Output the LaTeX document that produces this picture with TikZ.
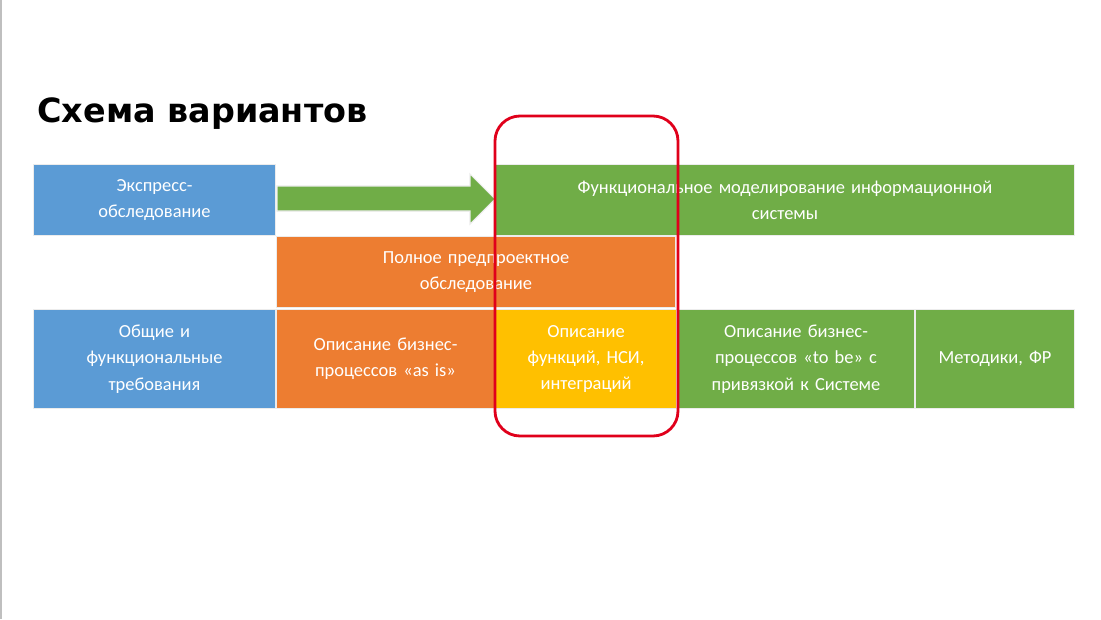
\documentclass[tikz,border=0pt]{standalone}
\usepackage{fontspec}
\setmainfont{Carlito}
\newfontfamily\titlefont{DejaVu Sans}
\usetikzlibrary{calc}
\definecolor{cblue}{HTML}{5B9BD5}
\definecolor{cgreen}{HTML}{70AD47}
\definecolor{corange}{HTML}{ED7D31}
\definecolor{cyellow}{HTML}{FFC000}
\definecolor{cred}{HTML}{E0001B}
\tikzset{
  px/.style={x=0.02cm,y=-0.02cm},
  box/.style={draw=white!85!gray, line width=0.6pt, text=white, font=\fontsize{10.5}{15}\selectfont, align=center}
}
\newcommand{\bx}[6]{\node[box, fill=#2, minimum width={(#5-#3)*0.02cm}, minimum height={(#6-#4)*0.02cm}, inner sep=0pt, text width={(#5-#3)*0.02cm-10pt}] (#1) at ({(#3+#5)/2*0.02cm},{-(#4+#6)/2*0.02cm}) {};}
\begin{document}
\begin{tikzpicture}[px]
\useasboundingbox (0,0) rectangle (1101,619);
\fill[white] (0,0) rectangle (1101,619);
\draw[gray!50, line width=0.6pt] (1,0) -- (1,619);
\node[anchor=base west, font=\titlefont\bfseries\fontsize{19}{22}\selectfont, inner sep=0pt] (title) at (37,122) {Схема вариантов};
% row 1
\node[box, fill=cblue, minimum width=4.84cm, minimum height=1.42cm, text width=4.5cm, inner sep=0pt, anchor=north west] (exp) at (33,164) {Экспресс-\\обследование};
\node[box, fill=cgreen, minimum width=11.58cm, minimum height=1.42cm, text width=11cm, inner sep=0pt, anchor=north west] (func) at (495,164) {Функциональное моделирование информационной\\ системы};
% arrow
\coordinate (a0) at (277,186);
\draw[fill=cgreen, draw=white!85!gray, line width=0.6pt] (a0) -- (470,186) -- (470,174) -- (495,199) -- (470,224) -- (470,211) -- (277,211) -- cycle;
% row 2
\node[box, fill=corange, minimum width=7.98cm, minimum height=1.42cm, text width=7.5cm, inner sep=0pt, anchor=north west] (full) at (276,236) {Полное предпроектное\\ обследование};
% row 3
\node[box, fill=cblue, minimum width=4.84cm, minimum height=1.98cm, text width=4.5cm, inner sep=0pt, anchor=north west] (gen) at (33,309) {Общие и\\ функциональные\\ требования};
\node[box, fill=corange, minimum width=4.36cm, minimum height=1.98cm, text width=4.2cm, inner sep=0pt, anchor=north west] (asis) at (276,309) {Описание бизнес-\\процессов «as is»};
\node[box, fill=cyellow, minimum width=3.62cm, minimum height=1.98cm, text width=3.4cm, inner sep=0pt, anchor=north west] (fn) at (495,309) {Описание\\ функций, НСИ,\\ интеграций};
\node[box, fill=cgreen, minimum width=4.74cm, minimum height=1.98cm, text width=4.6cm, inner sep=0pt, anchor=north west] (tobe) at (677,309) {Описание бизнес-\\процессов «to be» с\\ привязкой к Системе};
\node[box, fill=cgreen, minimum width=3.18cm, minimum height=1.98cm, text width=3.1cm, inner sep=0pt, anchor=north west] (met) at (915,309) {Методики, ФР};
% red frame
\draw[cred, line width=1.6pt, rounded corners=0.5cm] (495,116) rectangle (678,436);
\end{tikzpicture}
\end{document}
